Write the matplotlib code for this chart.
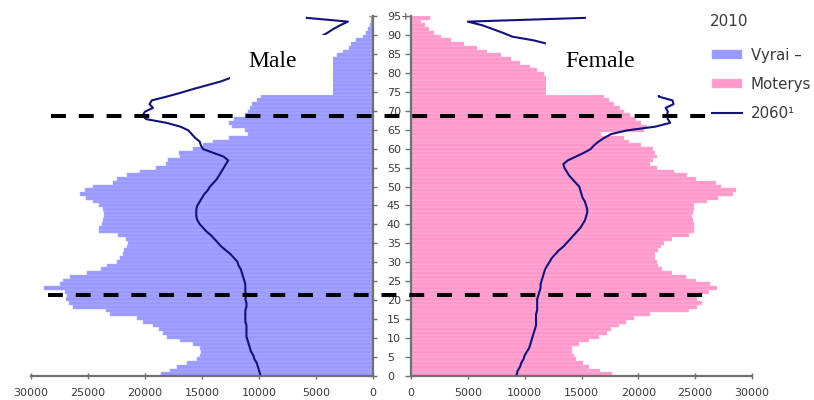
import numpy as np
import matplotlib
matplotlib.use("Agg")
import matplotlib.pyplot as plt
from matplotlib import transforms
from matplotlib.patches import Rectangle
from matplotlib.lines import Line2D

# ---------------- data (thousands of persons) ----------------
ages = np.arange(0, 96)
age_tick_labels = [str(a) for a in range(0, 95, 5)] + ["95+"]

male_2010 = [18.6, 17.8, 17.2, 16.3, 15.4, 15.2, 15.1, 15.2, 15.8, 16.9,
             18.1, 18.4, 18.8, 19.3, 20.2, 20.7, 23.1, 23.4, 26.3, 26.7,
             26.9, 26.8, 27.0, 28.9, 27.5, 27.2, 26.6, 25.1, 23.9, 23.3,
             22.5, 22.2, 21.9, 21.8, 21.6, 21.5, 21.7, 22.4, 24.0, 24.0,
             23.8, 23.7, 23.6, 23.6, 23.7, 24.0, 24.6, 25.2, 25.7, 25.3,
             24.6, 22.8, 22.5, 21.6, 20.4, 19.0, 18.2, 18.0, 16.9, 17.0,
             15.8, 14.9, 14.0, 12.6, 11.0, 11.2, 12.4, 12.6, 12.2, 11.2,
             11.0, 10.8, 10.6, 10.2, 9.8, 9.3, 8.8, 8.2, 7.6, 7.0,
             6.4, 5.8, 5.2, 4.6, 3.9, 3.2, 2.6, 2.1, 1.9, 1.5,
             0.9, 0.6, 0.45, 0.3, 0.2, 0.15]

female_2010 = [17.7, 16.6, 15.7, 15.1, 14.5, 14.3, 14.2, 14.2, 14.8, 15.7,
               16.5, 17.2, 17.6, 18.3, 18.9, 19.6, 21.0, 24.5, 25.2, 25.6,
               25.2, 25.3, 26.2, 26.9, 26.3, 25.1, 24.2, 23.0, 22.1, 21.7,
               21.6, 21.5, 21.5, 21.7, 22.0, 22.3, 23.0, 24.5, 24.9, 24.9,
               24.9, 24.8, 24.7, 24.8, 24.9, 24.9, 26.0, 27.0, 28.3, 28.6,
               27.3, 26.8, 25.1, 24.3, 23.1, 21.6, 21.0, 21.3, 21.6, 21.5,
               21.3, 20.2, 19.2, 18.7, 16.7, 20.5, 20.8, 20.2, 19.8, 19.3,
               18.7, 18.4, 17.9, 17.4, 17.0, 16.3, 15.6, 14.8, 14.0, 13.0,
               11.7, 11.1, 10.5, 9.6, 8.8, 7.9, 6.7, 5.8, 4.7, 3.5,
               2.6, 2.0, 1.6, 1.2, 0.9, 1.7]

male_2060 = [9.9, 10.0, 10.1, 10.2, 10.4, 10.5, 10.7, 10.8, 10.9, 11.0,
             11.1, 11.1, 11.1, 11.1, 11.2, 11.2, 11.2, 11.2, 11.1, 11.1,
             11.2, 11.1, 11.2, 11.2, 11.2, 11.3, 11.4, 11.5, 11.6, 11.8,
             11.9, 12.2, 12.5, 12.9, 13.3, 13.6, 13.9, 14.2, 14.6, 14.9,
             15.2, 15.4, 15.5, 15.5, 15.5, 15.4, 15.2, 15.0, 14.8, 14.5,
             14.3, 14.0, 13.7, 13.5, 13.3, 13.1, 12.9, 12.7, 13.1, 14.0,
             14.9, 15.1, 15.2, 15.6, 15.9, 16.2, 16.9, 18.1, 19.9, 20.2,
             20.0, 19.3, 19.6, 19.4, 18.1, 16.9, 15.8, 14.6, 13.4, 12.5,
             12.0, 11.3, 10.5, 9.8, 9.0, 8.2, 7.3, 6.5, 5.8, 5.2,
             4.6, 4.0, 3.5, 2.9, 2.2, 5.8]

female_2060 = [9.3, 9.4, 9.6, 9.7, 9.9, 10.0, 10.2, 10.4, 10.5, 10.6,
               10.7, 10.8, 10.9, 11.0, 11.0, 11.0, 11.0, 11.1, 11.1, 11.1,
               11.1, 11.2, 11.3, 11.4, 11.4, 11.5, 11.6, 11.7, 11.8, 12.0,
               12.2, 12.4, 12.7, 13.0, 13.4, 13.7, 14.0, 14.3, 14.6, 14.9,
               15.1, 15.3, 15.4, 15.5, 15.5, 15.4, 15.3, 15.1, 15.0, 14.9,
               14.8, 14.5, 14.2, 13.9, 13.7, 13.5, 13.4, 13.8, 14.5, 15.2,
               15.8, 16.1, 16.5, 17.0, 17.6, 19.0, 21.5, 22.8, 22.6, 22.5,
               22.6, 22.4, 23.1, 23.0, 21.8, 21.8, 21.5, 21.0, 20.5, 20.0,
               19.3, 18.6, 17.8, 17.0, 16.1, 15.2, 14.3, 13.3, 12.1, 10.8,
               8.9, 8.1, 7.2, 6.3, 5.0, 15.3]

x_ticks = [0, 5000, 10000, 15000, 20000, 25000, 30000]
marker_ages = [21.6, 69.3]          # dashed reference lines
legend_title = "2010"
legend_labels = ["Vyrai –", "Moterys", "2060¹"]

# ---------------- styling ----------------
W, H = 814, 400
fig = plt.figure(figsize=(W / 100, H / 100), dpi=100)
fig.patch.set_facecolor("white")

c_male = "#9999ff"
c_male_e = "#b3b3ff"
c_fem = "#ff99cc"
c_fem_e = "#ffb8dc"
c_line = "#12127a"
c_axis = "#707070"
c_txt = "#3a3a3a"

y_bot, y_top = 376, 16
axL = fig.add_axes([31 / W, 1 - y_bot / H, (373 - 31) / W, (y_bot - y_top) / H])
axR = fig.add_axes([411 / W, 1 - y_bot / H, (752 - 411) / W, (y_bot - y_top) / H])

m_vals = np.array(male_2010) * 1000
f_vals = np.array(female_2010) * 1000
m60 = np.array(male_2060) * 1000
f60 = np.array(female_2060) * 1000

bm = axL.barh(ages, m_vals, height=1.0, align="edge", color=c_male,
              edgecolor=c_male_e, linewidth=0.35, zorder=2)
bf = axR.barh(ages, f_vals, height=1.0, align="edge", color=c_fem,
              edgecolor=c_fem_e, linewidth=0.35, zorder=2)
lm, = axL.plot(m60, ages + 0.5, color=c_line, lw=1.5, zorder=3)
lf, = axR.plot(f60, ages + 0.5, color=c_line, lw=1.5, zorder=3)

ytick_pos = np.arange(0, 96, 5) * 96 / 95
for ax in (axL, axR):
    ax.set_ylim(0, 96)
    ax.set_facecolor("none")
    ax.set_xticks(x_ticks)
    ax.set_xticklabels([str(v) for v in x_ticks])
    ax.set_yticks(ytick_pos)
    ax.tick_params(axis="x", direction="inout", length=4, width=1,
                   color=c_axis, labelsize=8, labelcolor=c_txt, pad=6.5)
    ax.tick_params(axis="y", length=4, width=1, color=c_axis,
                   labelsize=8, labelcolor=c_txt)
    for s in ax.spines.values():
        s.set_color(c_axis)
        s.set_linewidth(1.6)
    ax.spines["top"].set_visible(False)

axL.set_xlim(30000, 0)
axR.set_xlim(0, 30000)
axL.spines["left"].set_visible(False)
axR.spines["right"].set_visible(False)
axL.yaxis.set_ticks_position("right")
axL.set_yticklabels(age_tick_labels)
axL.tick_params(axis="y", direction="inout", length=6, pad=7)
axR.yaxis.set_ticks_position("left")
axR.tick_params(axis="y", direction="out", labelleft=False)

# dashed reference lines across both panels
trans = transforms.blended_transform_factory(fig.transFigure, axL.transData)
extents = [(48, 707), (51, 712)]
for ya, (x0, x1) in zip(marker_ages, extents):
    ln = Line2D([x0 / W, x1 / W], [ya, ya], transform=trans, color="black",
                lw=2.9, dashes=(3.7, 3.2), zorder=6)
    fig.add_artist(ln)

# white label boxes
for (bx0, bx1), lab, cx in [((230, 333), "Male", 273), ((546, 690), "Female", 600)]:
    fig.add_artist(Rectangle((bx0 / W, 1 - 95 / H), (bx1 - bx0) / W, 60 / H,
                             transform=fig.transFigure, facecolor="white",
                             edgecolor="none", zorder=5))
    fig.text(cx / W, 1 - 67 / H, lab, ha="center", va="baseline",
             fontsize=17, family="Liberation Serif", color="black", zorder=7)

# legend
fig.text(710 / W, 1 - 22 / H, legend_title, ha="left", va="center",
         fontsize=11, color=c_txt)
leg = fig.legend([bm, bf, lm], legend_labels, loc="upper left",
                 bbox_to_anchor=(712 / W, 1 - 48 / H), frameon=False,
                 fontsize=10.8, labelcolor=c_txt, borderpad=0, borderaxespad=0,
                 handlelength=2.0, handleheight=0.6, handletextpad=0.6,
                 labelspacing=0.92)

fig.savefig("out.png", dpi=100, facecolor="white")
